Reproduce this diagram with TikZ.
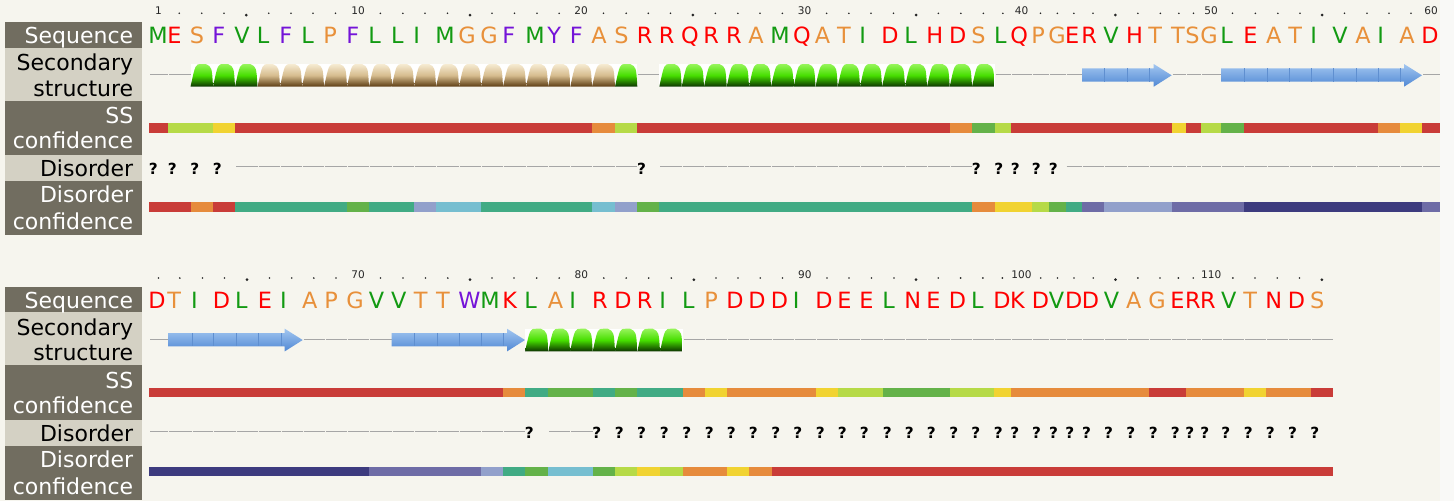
\documentclass[tikz,border=0pt]{standalone}
\usepackage{fontspec}
\setmainfont{DejaVu Sans}

\definecolor{pagebg}{HTML}{F6F5EE}
\definecolor{pageedge}{HTML}{F9F9F7}
\definecolor{boxdark}{HTML}{716D60}
\definecolor{boxlight}{HTML}{D4D1C4}
\definecolor{aared}{HTML}{FF0000}
\definecolor{aaorange}{HTML}{E8903A}
\definecolor{aagreen}{HTML}{129A12}
\definecolor{aapurple}{HTML}{7414D8}
% confidence scale, 0 = low .. 9 = high
\definecolor{conf0}{HTML}{3D3B7E}
\definecolor{conf1}{HTML}{6E6CA6}
\definecolor{conf2}{HTML}{92A0CB}
\definecolor{conf3}{HTML}{76BED0}
\definecolor{conf4}{HTML}{41AB84}
\definecolor{conf5}{HTML}{64B249}
\definecolor{conf6}{HTML}{B6DA47}
\definecolor{conf7}{HTML}{F1D331}
\definecolor{conf8}{HTML}{E68B3C}
\definecolor{conf9}{HTML}{C93C38}
% helix and strand
\definecolor{hgreenT}{HTML}{96F55A}
\definecolor{hgreen}{HTML}{46DE00}
\definecolor{hgreenB}{HTML}{0C3200}
\definecolor{htanT}{HTML}{F6EBD2}
\definecolor{htan}{HTML}{D6BC8E}
\definecolor{htanB}{HTML}{5A3A10}
\definecolor{strandT}{HTML}{A2C6F0}
\definecolor{strandB}{HTML}{5088D4}
\definecolor{strandE}{HTML}{5F8FD0}

% residue colours
\colorlet{resD}{aared}\colorlet{resE}{aared}\colorlet{resR}{aared}\colorlet{resK}{aared}
\colorlet{resH}{aared}\colorlet{resN}{aared}\colorlet{resQ}{aared}
\colorlet{resS}{aaorange}\colorlet{resA}{aaorange}\colorlet{resP}{aaorange}
\colorlet{resG}{aaorange}\colorlet{resT}{aaorange}
\colorlet{resM}{aagreen}\colorlet{resV}{aagreen}\colorlet{resL}{aagreen}\colorlet{resI}{aagreen}
\colorlet{resF}{aapurple}\colorlet{resY}{aapurple}\colorlet{resW}{aapurple}

% cell borders of the two lines (px)
\def\xrowA{{149,168,190.5,213,235,257.5,280,302,324,347,369,391.7,414,436,459,481,503,526,548,570.3,592,615,637.3,659.3,681.7,704,726.7,749,771,793.7,815.5,837.7,860,882,905,927,949.7,972,994.7,1011,1032,1049,1065.7,1082,1104,1126.7,1149,1171.7,1186,1201,1221,1244,1266.7,1289,1311,1333,1356,1378,1400,1422,1440}}
\def\xrowB{{149,168,191.7,213.3,235.7,258.3,280.7,302.7,325,347,369.3,391.7,414.3,436.7,459,481,503,525,548.3,570,592.7,615,637.3,660,682.7,705,727,749,771.5,793.5,816,838,860,883,905,927,949.5,971.7,994,1010.7,1032.3,1049.3,1065.7,1082.3,1104.3,1126.7,1149,1171,1185.7,1200.7,1221.7,1244,1266,1288.3,1310.7,1333}}

% sets \xl, \xr and \rowtop for residue #1
\newcommand\rescell[1]{%
  \ifnum#1>60\relax
    \def\rowtop{286.7}%
    \pgfmathsetmacro\xl{\xrowB[#1-61]}\pgfmathsetmacro\xr{\xrowB[#1-60]}%
  \else
    \def\rowtop{22}%
    \pgfmathsetmacro\xl{\xrowA[#1-1]}\pgfmathsetmacro\xr{\xrowA[#1]}%
  \fi}

\begin{document}
\begin{tikzpicture}[x=0.75pt,y=-0.75pt,
    lbl/.style={font=\fontsize{16.5}{19}\selectfont, anchor=base east, inner sep=0pt},
    lbldark/.style={lbl, text=white},
    lbllight/.style={lbl, text=black},
    res/.style={font=\fontsize{16.8}{19}\selectfont, anchor=base west, inner sep=0pt},
    ticknum/.style={font=\fontsize{7.9}{9}\selectfont, anchor=base, inner sep=0pt, text=black!85},
    tickdot/.style={fill=black!85},
    coil/.style={draw=black!35, line width=0.75pt},
    disq/.style={font=\bfseries\fontsize{11.5}{13}\selectfont, anchor=base west, inner sep=0pt},
    strand/.style={top color=strandT, bottom color=strandB},
    strandsep/.style={draw=strandE, line width=0.3pt}]
\useasboundingbox (0,0) rectangle (1454,501);
\fill[pagebg] (0,0) rectangle (1440,501);
\fill[pageedge] (1440,0) rectangle (1454,501);

% label panels
\foreach \row/\rt in {A/22,B/286.7}{
  \fill[boxdark] (5,\rt) rectangle (142,\rt+25.7);
  \fill[boxlight] (5,\rt+25.7) rectangle (142,\rt+78.7);
  \fill[boxdark] (5,\rt+78.7) rectangle (142,\rt+133);
  \fill[boxlight] (5,\rt+133) rectangle (142,\rt+159);
  \fill[boxdark] (5,\rt+159) rectangle (142,\rt+213);
  \node[lbldark] (seqlbl\row) at (133.5,\rt+21.3) {Sequence};
  \node[lbllight] (sslbl\row) at (133.5,\rt+48.7) {Secondary};
  \node[lbllight] (sslblb\row) at (133.5,\rt+74) {structure};
  \node[lbldark] (conflbl\row) at (133.5,\rt+101.3) {SS};
  \node[lbldark] (conflblb\row) at (133.5,\rt+126.3) {confidence};
  \node[lbllight] (dislbl\row) at (133.5,\rt+154.7) {Disorder};
  \node[lbldark] (dconflbl\row) at (133.5,\rt+180.3) {Disorder};
  \node[lbldark] (dconflblb\row) at (133.5,\rt+207.3) {confidence};
}

% ruler
\foreach \i in {1,...,115}{
  \rescell{\i}
  \pgfmathsetmacro\xc{(\xl+\xr)/2}
  \pgfmathtruncatemacro\mten{mod(\i,10)}
  \pgfmathtruncatemacro\mfive{mod(\i,5)}
  \ifnum\i=1\relax \node[ticknum] (tick\i) at (\xc,\rowtop-8) {\i};
  \else\ifnum\mten=0\relax \node[ticknum] (tick\i) at (\xc,\rowtop-8) {\i};
  \else\ifnum\mfive=0\relax \fill[tickdot] (\xc,\rowtop-7) circle[radius=1.5];
  \else \fill[tickdot] (\xc,\rowtop-8.7) circle[radius=0.9];
  \fi\fi\fi
}

% sequence
\foreach \aa [count=\i] in {M,E,S,F,V,L,F,L,P,F,L,L,I,M,G,G,F,M,Y,F,A,S,R,R,Q,R,R,A,M,Q,
    A,T,I,D,L,H,D,S,L,Q,P,G,E,R,V,H,T,T,S,G,L,E,A,T,I,V,A,I,A,D,
    D,T,I,D,L,E,I,A,P,G,V,V,T,T,W,M,K,L,A,I,R,D,R,I,L,P,D,D,D,I,
    D,E,E,L,N,E,D,L,D,K,D,V,D,D,V,A,G,E,R,R,V,T,N,D,S}{
  \rescell{\i}
  \node[res, text=res\aa] (res\i) at ({\xl-0.8},\rowtop+21.5) {\aa};
}

% secondary structure: coil
\foreach \a/\b in {1/2,23/23,39/43,48/50,60/60,61/61,68/71,85/115}{
  \foreach \j in {\a,...,\b}{
    \rescell{\j}
    \draw[coil] ({\xl+1},\rowtop+52.7) -- (\xr,\rowtop+52.7);
  }
}
% helices
\foreach \a/\b/\hc in {3/5/hgreen,6/21/htan,22/22/hgreen,24/38/hgreen,78/84/hgreen}{
  \foreach \j in {\a,...,\b}{
    \rescell{\j}
    \pgfmathsetmacro\cw{\xr-\xl}
    \fill[white] (\xl,\rowtop+42) rectangle (\xr,\rowtop+64.7);
    \path[top color=\hc T, bottom color=\hc B, middle color=\hc]
      (\xl,\rowtop+64.7) .. controls ({\xl+0.22*\cw},\rowtop+42) .. ({\xl+0.48*\cw},\rowtop+42)
      -- ({\xl+0.68*\cw},\rowtop+42) .. controls ({\xr-0.05*\cw},\rowtop+45) .. (\xr,\rowtop+64.7) -- cycle;
  }
}
% strands
\foreach \a/\b in {44/47,51/59,62/67,72/77}{
  \rescell{\a}\let\xs\xl
  \rescell{\b}\let\xe\xr
  \path[strand] (\xs,\rowtop+46.3) -- ({\xe-18},\rowtop+46.3) -- ({\xe-18},\rowtop+42)
    -- (\xe,\rowtop+53.3) -- ({\xe-18},\rowtop+64.7) -- ({\xe-18},\rowtop+59.7)
    -- (\xs,\rowtop+59.7) -- cycle;
  \foreach \j in {\a,...,\b}{
    \rescell{\j}
    \pgfmathtruncatemacro\inside{(\xl>\xs+1)&&(\xl<\xe-19)?1:0}
    \ifnum\inside=1\relax \draw[strandsep] (\xl,\rowtop+46.3) -- (\xl,\rowtop+59.7);\fi
  }
}

% SS confidence
\foreach \a/\b/\c in {1/1/9,2/3/6,4/4/7,5/20/9,21/21/8,22/22/6,23/36/9,37/37/8,38/38/5,39/39/6,
    40/47/9,48/48/7,49/49/9,50/50/6,51/51/5,52/57/9,58/58/8,59/59/7,60/60/9,
    61/76/9,77/77/8,78/78/4,79/80/5,81/81/4,82/82/5,83/84/4,85/85/8,86/86/7,87/90/8,
    91/91/7,92/93/6,94/96/5,97/98/6,99/99/7,100/106/8,107/108/9,109/111/8,112/112/7,
    113/114/8,115/115/9}{
  \rescell{\a}\let\xs\xl \rescell{\b}
  \fill[conf\c] (\xs,\rowtop+101.3) rectangle (\xr,\rowtop+110.7);
}

% disorder
\foreach \a/\b in {1/4,23/23,38/42,78/78,81/115}{
  \foreach \j in {\a,...,\b}{
    \rescell{\j}
    \node[disq] (dis\j) at ({\xl-0.5},\rowtop+152) {?};
  }
}
\foreach \a/\b in {5/22,24/37,43/60,61/77,79/80}{
  \foreach \j in {\a,...,\b}{
    \rescell{\j}
    \draw[coil] ({\xl+1},\rowtop+144.5) -- (\xr,\rowtop+144.5);
  }
}

% disorder confidence
\foreach \a/\b/\c in {1/2/9,3/3/8,4/4/9,5/9/4,10/10/5,11/12/4,13/13/2,14/15/3,16/20/4,
    21/21/3,22/22/2,23/23/5,24/37/4,38/38/8,39/40/7,41/41/6,42/42/5,43/43/4,44/44/1,
    45/47/2,48/51/1,52/59/0,60/60/1,
    61/70/0,71/75/1,76/76/2,77/77/4,78/78/5,79/80/3,81/81/5,82/82/6,83/83/7,84/84/6,
    85/86/8,87/87/7,88/88/8,89/115/9}{
  \rescell{\a}\let\xs\xl \rescell{\b}
  \fill[conf\c] (\xs,\rowtop+180) rectangle (\xr,\rowtop+189.7);
}
\end{tikzpicture}
\end{document}
